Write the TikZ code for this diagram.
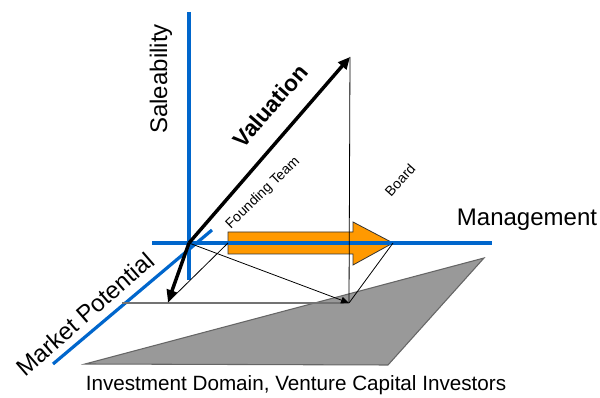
\documentclass[tikz,border=0pt]{standalone}
\usepackage{fontspec}
\setmainfont{Liberation Sans}
\usetikzlibrary{arrows.meta}
\definecolor{axisblue}{RGB}{0,102,204}
\definecolor{boardorange}{RGB}{255,153,0}
\definecolor{domaingray}{RGB}{153,153,153}
\begin{document}
\begin{tikzpicture}[x=0.75pt,y=-0.75pt,
	axis/.style={axisblue,line width=2.4pt},
	vec/.style={line width=2.6pt,-{Triangle[length=9pt,width=8pt]}},
	thinline/.style={line width=0.6pt}]
	\useasboundingbox (0,0) rectangle (600,398);
	% corner points
	\coordinate (o) at (189,243);
	\coordinate (val) at (350,57);
	\coordinate (mkt) at (168,302);
	\coordinate (base) at (349,303);
	\coordinate (base0) at (122,303);
	\coordinate (team) at (228,243);
	\coordinate (board) at (393,243);
	% axis ends
	\coordinate (saletop) at (189,12);
	\coordinate (salebot) at (189,280);
	\coordinate (mgmtleft) at (152,243);
	\coordinate (mgmtright) at (492,243);
	\coordinate (mktlow) at (53,364);
	\coordinate (mkthigh) at (212,230);
	% investment domain
	\coordinate (d1) at (85,364);
	\coordinate (d2) at (484,258);
	\coordinate (d3) at (388,365);
	\fill[domaingray,draw=black!60,line width=0.8pt] (d1) -- (d2) -- (d3) -- cycle;
	% board arrow
	\filldraw[fill=boardorange,draw=black!80,line width=0.6pt] (team) ++(0,-11) -- (353,232) -- (353,222) -- (board) -- (353,265) -- (353,254) -- (228,254) -- cycle;
	% axes
	\draw[axis] (saletop) -- (salebot);
	\draw[axis] (mgmtleft) -- (mgmtright);
	\draw[axis] (mktlow) -- (mkthigh);
	% projections
	\draw[black!55,line width=1.1pt] (base0) -- (base);
	\draw[thinline] (val) -- (base);
	\draw[thinline] (mkt) -- (team);
	\draw[thinline] (base) -- (board);
	\draw[thinline,-{Triangle[length=6pt,width=5pt]}] (o) -- (base);
	% vectors
	\draw[vec] (o) -- (val);
	\draw[vec] (o) -- (mkt);
	% labels
	\node[rotate=90] (sale) at (161,79) {\fontsize{18}{20}\selectfont Saleability};
	\node (mgmt) at (527,220) {\fontsize{18}{20}\selectfont Management};
	\node[rotate=41] (mp) at (85,314) {\fontsize{18}{20}\selectfont Market Potential};
	\node[rotate=49] (valt) at (270,106) {\fontsize{17}{20}\selectfont\bfseries Valuation};
	\node[rotate=44] (ft) at (263,193) {\fontsize{10.5}{12}\selectfont Founding Team};
	\node[rotate=48] (bd) at (400,180) {\fontsize{10.5}{12}\selectfont Board};
	\node (dom) at (296,385) {\fontsize{15.5}{18}\selectfont Investment Domain, Venture Capital Investors};
\end{tikzpicture}
\end{document}
